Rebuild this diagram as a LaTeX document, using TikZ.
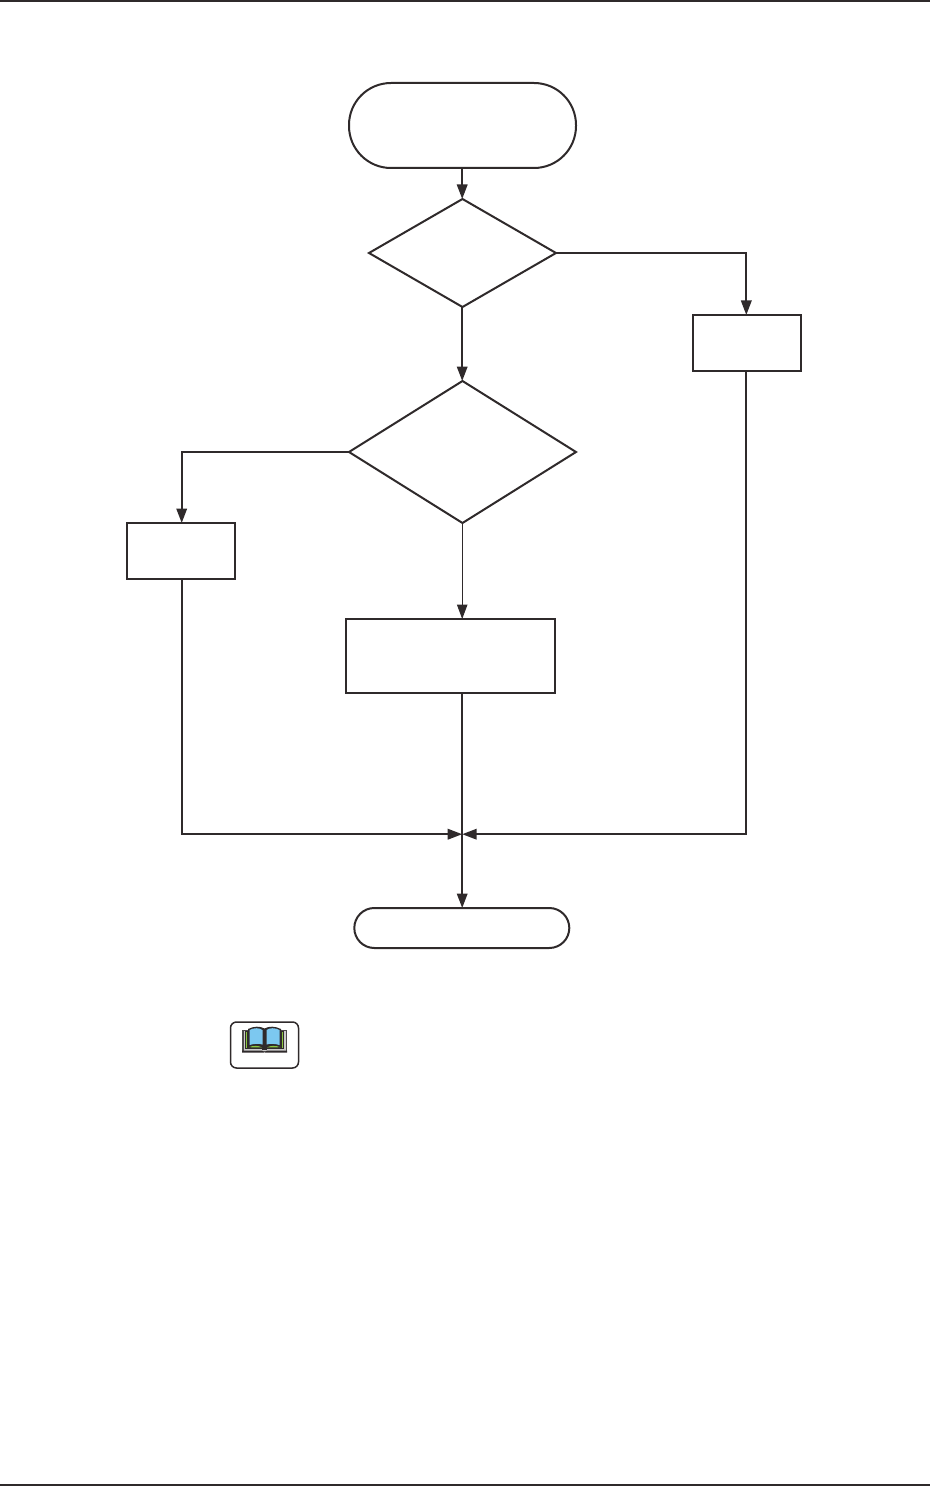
\documentclass[tikz,border=0pt]{standalone}
\usetikzlibrary{shapes.geometric,arrows.meta,calc}
\definecolor{ink}{HTML}{2F2A2B}
\definecolor{pageblue}{HTML}{7CC8F0}
\definecolor{pagegreen}{HTML}{8CC63F}
\tikzset{
  shapebase/.style={draw=ink,line width=2pt,inner sep=0pt,outer sep=0pt,fill=white},
  procbox/.style={shapebase,rectangle},
  termbox/.style={shapebase,rectangle,rounded corners=#1},
  decision/.style={shapebase,diamond},
  flow/.style={draw=ink,line width=2pt,-{Triangle[length=14.5pt,width=10.5pt,fill=ink]}},
  flowthin/.style={draw=ink,line width=1pt,-{Triangle[length=14.5pt,width=10.5pt,fill=ink]}},
  rule/.style={draw=ink,line width=1.6pt}
}
\begin{document}
\begin{tikzpicture}[x=1pt,y=-1pt]
\useasboundingbox (0,0) rectangle (930,1487);
\coordinate (ruleTL) at (0,0.8); \coordinate (ruleTR) at (930,0.8);
\coordinate (ruleBL) at (0,1485); \coordinate (ruleBR) at (930,1485);
\draw[rule] (ruleTL) -- (ruleTR);
\draw[rule] (ruleBL) -- (ruleBR);

\node[termbox=42pt,minimum width=227pt,minimum height=85pt] (start) at (462.5,125.5) {};
\node[decision,minimum width=187pt,minimum height=108pt,aspect=1.731] (d1) at (462.5,253) {};
\node[decision,minimum width=227pt,minimum height=142pt,aspect=1.6] (d2) at (462.5,452) {};
\node[procbox,minimum width=108pt,minimum height=56pt] (rbox) at (747,343) {};
\node[procbox,minimum width=108pt,minimum height=56pt] (lbox) at (181,551) {};
\node[procbox,minimum width=209pt,minimum height=74pt] (mbox) at (450.5,656) {};
\node[termbox=20pt,minimum width=215pt,minimum height=40pt] (endn) at (461.8,928) {};
\coordinate (j) at (462.2,834.2);
\coordinate (cx) at (462.2,0);
\coordinate (rx) at (746.3,0);
\coordinate (lx) at (181.7,0);

\draw[flow] (cx |- start.south) -- (cx |- d1.north);
\draw[flow] (cx |- d1.south) -- (cx |- d2.north);
\draw[flow] (d1.east) -| (rx |- rbox.north);
\draw[flow] (d2.west) -| (lx |- lbox.north);
\draw[flowthin] (cx |- d2.south) -- (cx |- mbox.north);
\draw[flow] (cx |- mbox.south) -- (cx |- endn.north);
\draw[flow] (lx |- lbox.south) |- (j);
\draw[flow] (rx |- rbox.south) |- (j);

% book reference icon
\node[draw=ink,line width=1.5pt,rounded corners=6pt,minimum width=68pt,minimum height=46pt,inner sep=0pt,outer sep=0pt] (ref) at (264.5,1045) {};
\fill[ink!85] (242,1030) rectangle (287,1052);
\fill[white!75!ink] (243.5,1031) rectangle (285.5,1050.5);
\fill[ink] (245,1031) rectangle (284,1050);
\fill[pagegreen] (245.8,1031.5) rectangle (247,1047.5);
\fill[pagegreen] (282,1031.5) rectangle (283.2,1047.5);
\fill[ink] (248,1029) .. controls (254,1026) and (260,1026) .. (264.5,1028.5)
  .. controls (269,1026) and (275,1026) .. (281,1029)
  -- (281,1047.5) .. controls (275,1045) and (269,1045) .. (264.5,1049)
  .. controls (260,1045) and (254,1045) .. (248,1047.5) -- cycle;
\fill[pageblue] (249.5,1030) .. controls (254,1027.6) and (259,1027.6) .. (262.5,1030)
  -- (262.5,1044.5) .. controls (259,1043.5) and (254,1043.5) .. (249.5,1045) -- cycle;
\fill[pageblue] (266.5,1030) .. controls (270,1027.6) and (275,1027.6) .. (279.5,1030)
  -- (279.5,1045) .. controls (275,1043.5) and (270,1043.5) .. (266.5,1044.5) -- cycle;
\fill[pagegreen] (248.5,1047.2) .. controls (254,1045.4) and (258,1045.4) .. (262,1047.4) -- cycle;
\fill[pagegreen] (267,1047.4) .. controls (271,1045.4) and (275,1045.4) .. (280.5,1047.2) -- cycle;
\fill[white!75!ink] (244,1049) rectangle (262,1050);
\fill[white!75!ink] (267,1049) rectangle (285,1050);
\fill[ink] (242,1050.5) -- (262,1050.5) -- (264.5,1052.8) -- (267,1050.5) -- (287,1050.5) -- (287,1052.5) -- (242,1052.5) -- cycle;
\end{tikzpicture}
\end{document}
